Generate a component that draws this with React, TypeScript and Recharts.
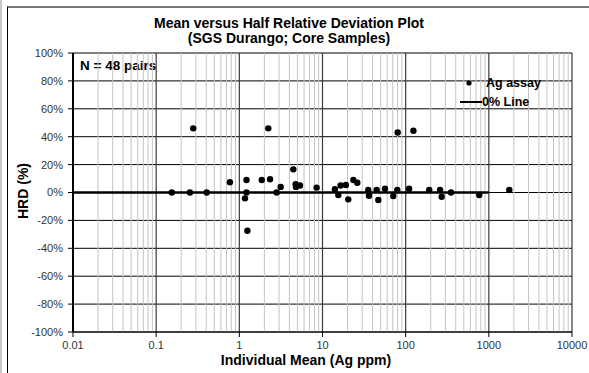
import React from 'react';
import {
  ScatterChart,
  Scatter,
  XAxis,
  YAxis,
  CartesianGrid,
  ReferenceLine,
  Legend,
  Customized,
} from 'recharts';

// Individual mean (Ag ppm) and half relative deviation (%)
const agMean = [
  0.154, 0.255, 0.279, 0.405, 0.77, 1.17, 1.22, 1.22, 1.25, 1.86, 2.23, 2.34, 2.81, 3.14,
  4.46, 4.76, 4.8, 5.36, 8.5, 14.1, 15.5, 16.5, 19.1, 20.4, 23.5, 26.2, 35.5, 36.2, 44.8,
  46.9, 56.4, 71, 79.3, 80.2, 110, 124, 192, 259, 271, 351, 767, 1762,
];
const agHrd = [
  0, 0, 46, 0, 7.3, -4.2, 9, 0, -27.4, 9, 46, 9.5, 0, 4, 16.6, 6, 4, 5, 3.5, 2.3, -1.8,
  5, 5.4, -4.9, 9, 7, 1.8, -2.3, 1.8, -5.4, 2.7, -2.5, 1.8, 43, 2.7, 44.3, 1.8, 1.8, -3, 0,
  -1.8, 1.8,
];

const zeroLineX = [0.01, 1000];
const zeroLineY = [0, 0];

const xTicks = [0.01, 0.1, 1, 10, 100, 1000, 10000];
const yTicks = [-100, -80, -60, -40, -20, 0, 20, 40, 60, 80, 100];
const minorMultipliers = [2, 3, 4, 5, 6, 7, 8, 9];

const titleLine1 = 'Mean versus Half Relative Deviation Plot';
const titleLine2 = '(SGS Durango; Core Samples)';
const xTitle = 'Individual Mean (Ag ppm)';
const yTitle = 'HRD (%)';
const nLabel = 'N = 48 pairs';
const seriesName = 'Ag assay';
const lineName = '0% Line';

const assayData = agMean.map((x, i) => ({ x, y: agHrd[i] }));
const zeroData = zeroLineX.map((x, i) => ({ x, y: zeroLineY[i] }));

const minorTicks: number[] = [];
for (let d = 0; d < xTicks.length - 1; d++) {
  for (const m of minorMultipliers) minorTicks.push(+(xTicks[d] * m).toPrecision(3));
}

const FONT = 'Arial, "Liberation Sans", sans-serif';

const Dot = (props: any) => {
  const { cx, cy } = props;
  if (cx == null || cy == null) return null;
  return <circle cx={cx} cy={cy} r={3.2} fill="#000" />;
};

const NoShape = () => null;

const LegendContent = () => (
  <div style={{ fontFamily: FONT, fontWeight: 'bold', fontSize: 12.5, color: '#000', whiteSpace: 'nowrap' }}>
    <div style={{ display: 'flex', alignItems: 'center', height: 19 }}>
      <svg width={24} height={10}>
        <circle cx={9} cy={5} r={2.6} fill="#000" />
      </svg>
      <span style={{ marginLeft: 2 }}>{seriesName}</span>
    </div>
    <div style={{ display: 'flex', alignItems: 'center', height: 19 }}>
      <svg width={22} height={10}>
        <line x1={0} y1={5} x2={22} y2={5} stroke="#000" strokeWidth={2} />
      </svg>
      <span style={{ marginLeft: 0 }}>{lineName}</span>
    </div>
  </div>
);

const Texts = () => (
  <g fontFamily={FONT} fontWeight="bold" fill="#000">
    <text x={289} y={23} textAnchor="middle" dominantBaseline="central" fontSize={14}>
      {titleLine1}
    </text>
    <text x={289} y={38} textAnchor="middle" dominantBaseline="central" fontSize={14}>
      {titleLine2}
    </text>
    <text x={306} y={360} textAnchor="middle" dominantBaseline="central" fontSize={14}>
      {xTitle}
    </text>
    <text
      x={23}
      y={191}
      textAnchor="middle"
      dominantBaseline="central"
      fontSize={14}
      transform="rotate(-90 23 191)"
    >
      {yTitle}
    </text>
    <text x={80} y={65} dominantBaseline="central" fontSize={13.5}>
      {nLabel}
    </text>
  </g>
);

export default function App() {
  return (
    <div style={{ position: 'absolute', left: 0, top: 0, width: 589, height: 373, background: '#fff' }}>
      <div
        style={{
          position: 'absolute',
          left: 0,
          top: 0,
          width: 2,
          height: 373,
          background: '#c8c8c8',
        }}
      />
      <div
        style={{
          position: 'absolute',
          left: 7,
          top: 6,
          width: 600,
          height: 400,
          borderLeft: '1px solid #000',
          borderTop: '2px solid #777',
          boxSizing: 'border-box',
        }}
      />
      <div style={{ position: 'absolute', left: 0, top: 0 }}>
        <ScatterChart width={589} height={373} margin={{ top: 53, right: 17, bottom: 0, left: 0 }}>
          <CartesianGrid vertical={false} stroke="#000" strokeWidth={1} />
          {minorTicks.map((v) => (
            <ReferenceLine key={'m' + v} x={v} stroke="#c4c4c4" strokeWidth={1} ifOverflow="hidden" />
          ))}
          {xTicks.slice(1).map((v) => (
            <ReferenceLine key={'d' + v} x={v} stroke="#3a3a3a" strokeWidth={1.2} />
          ))}
          <XAxis
            type="number"
            dataKey="x"
            scale="log"
            domain={[0.01, 10000]}
            ticks={xTicks}
            allowDataOverflow
            height={41}
            axisLine={{ stroke: '#000', strokeWidth: 1 }}
            tickLine={{ stroke: '#000' }}
            tickSize={5}
            tickMargin={4}
            tick={{ fontSize: 11, fill: '#333', fontFamily: FONT }}
            tickFormatter={(v: number) => String(v)}
            interval={0}
          />
          <YAxis
            type="number"
            dataKey="y"
            domain={[-100, 100]}
            ticks={yTicks}
            width={73}
            axisLine={{ stroke: '#000', strokeWidth: 2 }}
            tickLine={{ stroke: '#000' }}
            tickSize={5}
            tickMargin={5}
            tick={{ fontSize: 11, fill: '#333', fontFamily: FONT }}
            tickFormatter={(v: number) => `${v}%`}
            interval={0}
          />
          <Scatter
            name={lineName}
            data={zeroData}
            line={{ stroke: '#000', strokeWidth: 2.5 }}
            shape={NoShape}
            isAnimationActive={false}
          />
          <Scatter name={seriesName} data={assayData} shape={Dot} isAnimationActive={false} />
          <Legend
            layout="vertical"
            align="center"
            verticalAlign="middle"
            content={LegendContent}
            wrapperStyle={{ position: 'absolute', top: 73, left: 460, width: 110, height: 40 }}
          />
          <Customized component={Texts} />
        </ScatterChart>
      </div>
    </div>
  );
}
